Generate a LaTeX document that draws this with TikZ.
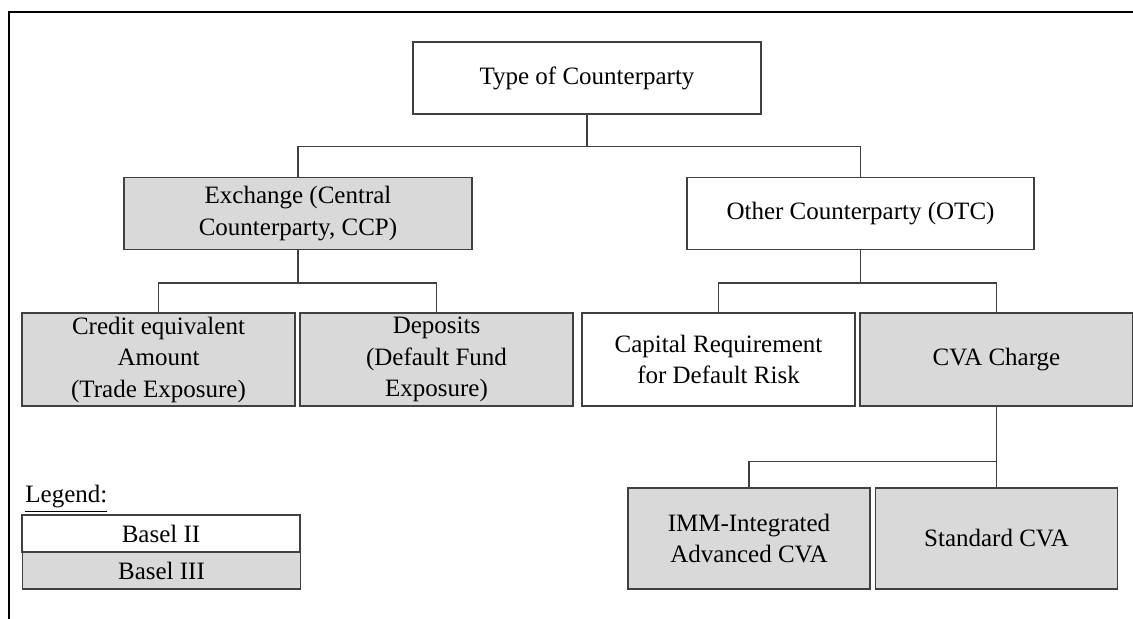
\documentclass[tikz,border=0pt]{standalone}
\usepackage{fontspec}
\setmainfont{Liberation Serif}
\usepackage{tikz}
\usetikzlibrary{positioning,calc}
\definecolor{boxgray}{RGB}{217,217,217}
\definecolor{linegray}{RGB}{64,64,64}

\begin{document}
\begin{tikzpicture}[x=0.5pt, y=-0.5pt,
    font=\fontsize{12.5}{15.75}\selectfont,
    box/.style={draw=linegray, line width=0.6pt, fill=white, align=center, inner sep=0pt},
    basel3/.style={box, fill=boxgray},
    wide/.style={minimum width=174pt, minimum height=36pt},
    mid/.style={minimum width=136.5pt, minimum height=46.5pt},
    low/.style={minimum width=121pt, minimum height=50.5pt},
    key/.style={minimum width=139pt, minimum height=18.5pt},
    link/.style={draw=linegray, line width=0.6pt}]
    \useasboundingbox (0,0) rectangle (1133,619);
    % --- Frame (cut at right and bottom) ---
    \draw[line width=0.9pt] (9,619) -- (9,12) -- (1133,12);
    % --- Top level ---
    \node[box, wide] (type) at (587,78) {Type of Counterparty};
    \node[basel3, wide] (exch) at (298,213.5) {Exchange (Central\\Counterparty, CCP)};
    \node[box, wide, minimum width=173.5pt] (otc) at (860.5,213.5) {Other Counterparty (OTC)};
    % --- Second level ---
    \node[basel3, mid] (credit) at (158.5,359.5) {Credit equivalent\\Amount\\(Trade Exposure)};
    \node[basel3, mid] (deposit) at (436.5,359.5) {Deposits\\(Default Fund\\Exposure)};
    \node[box, mid] (capital) at (718.5,359.5) {Capital Requirement\\for Default Risk};
    \node[basel3, mid] (cva) at (996.5,359.5) {CVA Charge};
    % --- Third level ---
    \node[basel3, low] (imm) at (749,538.5) {IMM-Integrated\\Advanced CVA};
    \node[basel3, low] (stdcva) at (996.5,538.5) {Standard CVA};
    % --- Connectors ---
    \draw[link] (type.south) -- ++(0,32) coordinate (bar0) -| (exch.north);
    \draw[link] (bar0) -| (otc.north);
    \draw[link] (exch.south) -- ++(0,33) coordinate (bar1) -| (credit.north);
    \draw[link] (bar1) -| (deposit.north);
    \draw[link] (otc.south) -- ++(0,33) coordinate (bar2) -| (capital.north);
    \draw[link] (bar2) -| (cva.north);
    \draw[link] (cva.south) -- ++(0,55) coordinate (bar3) -| (imm.north);
    \draw[link] (bar3) -- (stdcva.north);
    % --- Legend ---
    \node[anchor=west, inner sep=0pt] (legend) at (25,499) {\underline{Legend:}};
    \node[box, key] (b2) at (161,533.5) {Basel II};
    \node[basel3, key] (b3) at (161.5,570.5) {Basel III};
\end{tikzpicture}
\end{document}
